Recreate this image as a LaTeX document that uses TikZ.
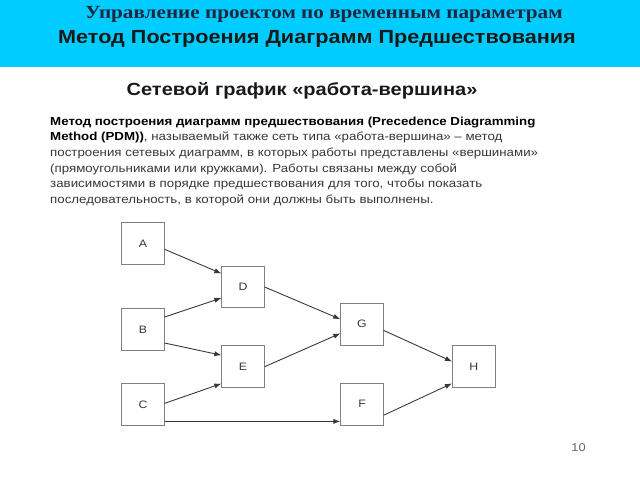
\documentclass[tikz,border=0pt]{standalone}
\usepackage{fontspec}
\setmainfont[FakeStretch=1.14]{Liberation Sans}
\newfontfamily\headserif[FakeStretch=1.14]{Liberation Serif}
\usepackage{xcolor}
\usetikzlibrary{arrows.meta,positioning}

\definecolor{headcyan}{RGB}{0,204,255}
\definecolor{headnavy}{RGB}{28,40,66}
\definecolor{boxgray}{RGB}{128,128,128}
\definecolor{inkgray}{RGB}{55,55,55}

\begin{document}
\begin{tikzpicture}[
    x=0.03cm, y=-0.03cm,
    >={Latex[length=6pt,width=4.4pt]},
    box/.style={rectangle, draw=boxgray, line width=0.65pt, fill=white, minimum width=1.275cm, minimum height=1.25cm, inner sep=0pt, text=inkgray, font=\fontsize{9.2}{11}\selectfont},
    link/.style={->, draw=inkgray, line width=0.75pt},
]
\useasboundingbox (0,0) rectangle (640,480);
\fill[white] (0,0) rectangle (640,480);
\fill[headcyan] (0,0) rectangle (640,67);

% header
\node[anchor=base, text=headnavy, font=\headserif\bfseries\fontsize{15.85}{18}\selectfont] (title) at (324,18.5) {Управление проектом по временным параметрам};
\node[anchor=base, text=black!90, font=\bfseries\fontsize{16.2}{18}\selectfont] (subtitle) at (317,44) {Метод Построения Диаграмм Предшествования};

% slide text
\node[anchor=base, text=black!90, font=\bfseries\fontsize{15}{17}\selectfont] (heading) at (302,95.5) {Сетевой график «работа-вершина»};
\node[anchor=base west, inner sep=0pt, align=left, text=inkgray, font=\fontsize{9.95}{13.35}\selectfont] (para) at (50,203.5) {%
\textcolor{black}{\bfseries Метод построения диаграмм предшествования (Precedence Diagramming}\\
\textcolor{black}{\bfseries Method (PDM))}, называемый также сеть типа «работа-вершина» -- метод\\
построения сетевых диаграмм, в которых работы представлены «вершинами»\\
(прямоугольниками или кружками). Работы связаны между собой\\
зависимостями в порядке предшествования для того, чтобы показать\\
последовательность, в которой они должны быть выполнены.};

% network
\node[box] (A) at (143,243.5) {A};
\node[box] (B) at (143,329.5) {B};
\node[box] (C) at (143,404.5) {C};
\node[box] (D) at (243,287) {D};
\node[box] (E) at (243,366.7) {E};
\node[box] (G) at (362,324.2) {G};
\node[box] (F) at (362,404.2) {F};
\node[box] (H) at (473.7,366.5) {H};

\draw[link] (A.-15) -- (D.148);
\draw[link] (B.30) -- (D.207);
\draw[link] (B.-32) -- (E.152);
\draw[link] (C.3) -- (E.218);
\draw[link] (C.-38) -- (C.-38 -| F.west);
\draw[link] (D.east) -- (G.167);
\draw[link] (E.east) -- (G.203);
\draw[link] (G.-16) -- (H.167);
\draw[link] (F.-27) -- (H.218);

\node[anchor=base, text=black!60, font=\fontsize{9.6}{12}\selectfont] (page) at (578.5,451.7) {10};
\end{tikzpicture}
\end{document}
